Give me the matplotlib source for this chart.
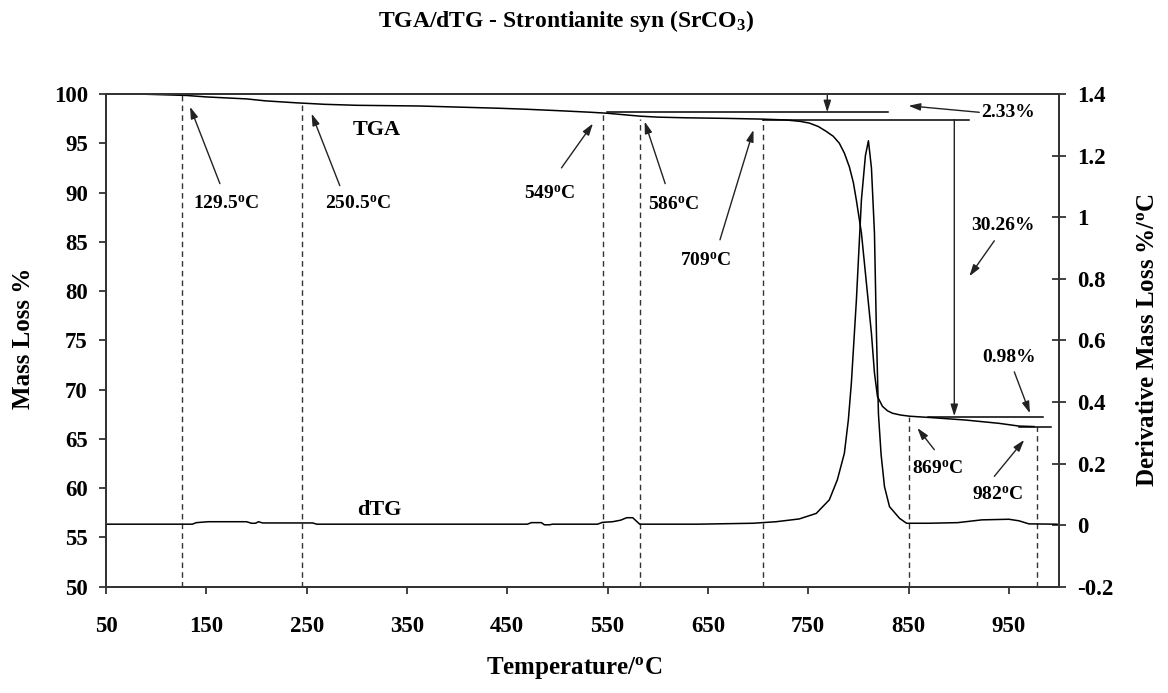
import matplotlib
matplotlib.use("Agg")
import matplotlib.pyplot as plt
import numpy as np

plt.rcParams['font.family'] = ['Liberation Serif', 'DejaVu Serif']
plt.rcParams['font.weight'] = 'bold'
plt.rcParams['mathtext.fontset'] = 'custom'
plt.rcParams['mathtext.rm'] = 'Liberation Serif:bold'
plt.rcParams['mathtext.it'] = 'Liberation Serif:italic:bold'
plt.rcParams['mathtext.bf'] = 'Liberation Serif:bold'

# TGA curve (mass %)
tga_temp = [50, 87, 130, 150, 190, 209, 240, 268, 300, 362, 442, 469, 502, 532, 549,
            560, 582, 600, 629, 670, 704, 728, 742, 751, 760, 768, 775, 781, 786, 791, 795,
            798, 803, 808, 813, 816, 819, 824, 829, 834, 842, 851, 874, 907, 940, 960, 975]
tga_mass = [100.0, 99.98, 99.85, 99.7, 99.5, 99.3, 99.1, 98.95, 98.85, 98.78, 98.55, 98.45,
            98.3, 98.15, 98.05, 97.95, 97.75, 97.65, 97.58, 97.52, 97.45, 97.36, 97.22, 97.05,
            96.7, 96.2, 95.7, 95.0, 94.0, 92.6, 91.0, 89.2, 85.9, 80.8, 75.7, 71.7, 69.3, 68.3,
            67.85, 67.6, 67.42, 67.3, 67.15, 66.91, 66.58, 66.3, 66.25]

# dTG curve (%/oC)
dtg_temp = [50, 136, 140, 152, 190, 195, 199, 202, 206, 256, 260, 470, 474, 484, 487, 492,
            495, 540, 545, 555, 563, 569, 575, 582, 640, 695, 718, 741, 758, 771, 779, 786,
            790, 793, 798, 803, 807, 810, 813, 816, 818, 820, 822.6, 826, 831, 841, 848, 870,
            899, 923, 950, 960, 970, 998]
dtg_val = [0.003, 0.003, 0.008, 0.011, 0.011, 0.006, 0.006, 0.011, 0.007, 0.007, 0.003,
           0.003, 0.008, 0.008, 0.001, 0.001, 0.003, 0.003, 0.009, 0.011, 0.016, 0.024,
           0.024, 0.003, 0.003, 0.006, 0.011, 0.02, 0.038, 0.082, 0.147, 0.233, 0.342, 0.462,
           0.731, 1.056, 1.2, 1.248, 1.16, 0.949, 0.62, 0.36, 0.23, 0.125, 0.06, 0.022, 0.006,
           0.006, 0.008, 0.017, 0.019, 0.014, 0.004, 0.003]

# dashed markers: x position, top of the line (mass %)
mark_temp = [126, 245, 545, 582, 705, 850, 978]
mark_top = [99.9, 99.05, 98.1, 97.45, 97.45, 67.2, 66.24]

# step lines used for the mass-loss readings: (x0, x1, mass)
steps = [(549, 830, 98.14), (705, 910, 97.4), (869, 984, 67.2), (960, 992, 66.24)]

# labels: text, text pos, arrow tail, arrow head
notes = [
    ('129.5$^{\\rm o}$C', (170, 88.8), (163.5, 90.9), (133.7, 98.7)),
    ('250.5$^{\\rm o}$C', (301, 88.8), (283, 90.7), (254.9, 98.0)),
    ('549$^{\\rm o}$C', (492, 89.9), (504, 92.5), (535.4, 97.0)),
    ('586$^{\\rm o}$C', (616, 88.7), (607.4, 90.9), (586.9, 97.2)),
    ('709$^{\\rm o}$C', (648, 83.1), (662, 85.2), (695.4, 96.35)),
    ('2.33%', (949, 98.1), (920.5, 98.14), (850, 98.8)),
    ('30.26%', (944, 86.7), (935.5, 85.1), (910.6, 81.5)),
    ('0.98%', (950, 73.3), (955.4, 71.8), (971, 67.6)),
    ('869$^{\\rm o}$C', (879, 62.0), (875.7, 63.9), (858.8, 66.1)),
    ('982$^{\\rm o}$C', (939, 59.3), (935.5, 61.2), (965.3, 64.9)),
]

fig = plt.figure(figsize=(11.68, 6.93), dpi=100)
ax = fig.add_axes([0.0908, 0.1534, 0.8159, 0.7110])
ax2 = ax.twinx()

ax.plot(tga_temp, tga_mass, color='black', lw=1.1)
ax2.plot(dtg_temp, dtg_val, color='black', lw=1.1)

for t, top in zip(mark_temp, mark_top):
    ax.plot([t, t], [50, top], color='#333333', lw=1.0, ls=(0, (4, 3)))

for x0, x1, m in steps:
    ax.plot([x0, x1], [m, m], color='black', lw=1.1)

arrow = dict(arrowstyle='-|>,head_length=0.7,head_width=0.22', color='#222222',
             lw=1.0, shrinkA=0, shrinkB=0)
for txt, tpos, tail, head in notes:
    ax.text(tpos[0], tpos[1], txt, ha='center', va='center', fontsize=14, fontweight='bold')
    ax.annotate('', xy=head, xytext=tail, arrowprops=arrow)

# arrows bounding the step readings
ax.annotate('', xy=(769, 98.14), xytext=(769, 100), arrowprops=arrow)
ax.annotate('', xy=(895.6, 67.3), xytext=(895.6, 97.4), arrowprops=arrow)

ax.text(320, 96.3, 'TGA', ha='center', va='center', fontsize=16, fontweight='bold')
ax.text(322, 57.8, 'dTG', ha='center', va='center', fontsize=16, fontweight='bold')

ax.set_xlim(50, 1000)
ax.set_ylim(50, 100)
ax2.set_ylim(-0.2, 1.4)
ax.set_xticks(np.arange(50, 1000, 100))
ax.set_yticks(np.arange(50, 101, 5))
ax2.set_yticks(np.round(np.arange(-0.2, 1.41, 0.2), 1))
ax2.set_yticklabels(['%g' % v for v in np.round(np.arange(-0.2, 1.41, 0.2), 1)])

for a in (ax, ax2):
    for s in a.spines.values():
        s.set_color('#333333')
        s.set_linewidth(1.3)
ax.tick_params(axis='x', direction='out', length=5, width=1.3, color='#333333',
               pad=16, labelsize=16.5)
ax.tick_params(axis='y', direction='out', length=5, width=1.3, color='#333333',
               pad=8, labelsize=16.5)
ax2.tick_params(axis='y', direction='inout', length=10, width=1.3, color='#333333',
                pad=8, labelsize=16.5)

fig.text(566 / 1168, 1 - 21 / 693, 'TGA/dTG - Strontianite syn (SrCO$_3$)',
         ha='center', va='center', fontsize=17, fontweight='bold')
fig.text(574 / 1168, 1 - 668 / 693, 'Temperature/$^{\\rm o}$C',
         ha='center', va='center', fontsize=18, fontweight='bold')
fig.text(24 / 1168, 1 - 338 / 693, 'Mass Loss %', rotation=90,
         ha='center', va='center', fontsize=18, fontweight='bold')
fig.text(1148 / 1168, 1 - 340 / 693, 'Derivative Mass Loss %/$^{\\rm o}$C', rotation=90,
         ha='center', va='center', fontsize=18, fontweight='bold')

fig.savefig('out.png', dpi=100)
